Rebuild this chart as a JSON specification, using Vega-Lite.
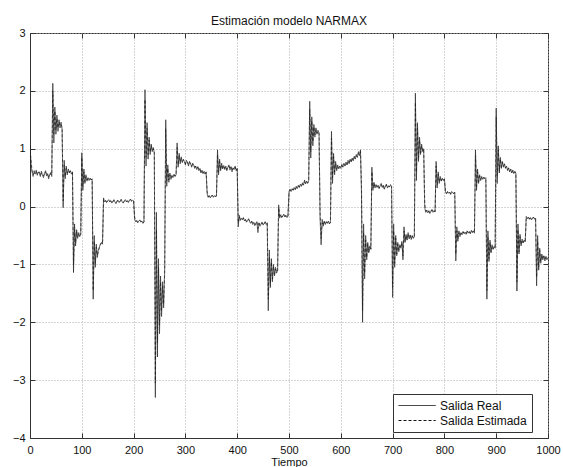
{
"$schema": "https://vega.github.io/schema/vega-lite/v6.json",
"width": 518,
"height": 405,
"autosize": {"type": "none"},
"padding": {"left": 30, "top": 33, "right": 15, "bottom": 29},
"background": "white",
"title": {"text": "Estimación modelo NARMAX", "fontSize": 12, "fontWeight": "normal", "font": "Liberation Sans", "color": "#111", "offset": -1},
"config": {
  "view": {"stroke": "#333", "strokeWidth": 1},
  "axis": {"labelFont": "Liberation Sans", "titleFont": "Liberation Sans", "labelFontSize": 11, "titleFontSize": 11, "titleFontWeight": "normal", "labelColor": "#111", "titleColor": "#111", "domainColor": "#333", "tickColor": "#333", "gridColor": "#aaa", "gridDash": [1, 2], "gridWidth": 1}
},
"data": {"values": [
{"t":0,"r":1.05,"e":0.98},{"t":2,"r":0.72,"e":0.80},{"t":4,"r":0.60,"e":0.62},{"t":6,"r":0.52,"e":0.55},{"t":8,"r":0.62,"e":0.58},{"t":10,"r":0.56,"e":0.60},{"t":12,"r":0.63,"e":0.61},{"t":14,"r":0.54,"e":0.56},{"t":16,"r":0.60,"e":0.58},{"t":18,"r":0.57,"e":0.60},{"t":20,"r":0.52,"e":0.54},{"t":22,"r":0.61,"e":0.58},{"t":24,"r":0.55,"e":0.57},{"t":26,"r":0.50,"e":0.53},{"t":28,"r":0.58,"e":0.56},{"t":30,"r":0.62,"e":0.60},{"t":32,"r":0.53,"e":0.55},{"t":34,"r":0.57,"e":0.56},{"t":36,"r":0.48,"e":0.51},{"t":38,"r":0.55,"e":0.54},{"t":40,"r":0.59,"e":0.57},{"t":42,"r":0.52,"e":0.55},
{"t":44,"r":2.13,"e":2.00},{"t":46,"r":1.10,"e":1.25},{"t":48,"r":1.72,"e":1.65},{"t":50,"r":1.25,"e":1.32},{"t":52,"r":1.58,"e":1.52},{"t":54,"r":1.30,"e":1.36},{"t":56,"r":1.50,"e":1.46},{"t":58,"r":1.36,"e":1.40},{"t":60,"r":1.46,"e":1.42},{"t":62,"r":1.33,"e":1.36},
{"t":64,"r":-0.02,"e":0.10},{"t":66,"r":0.80,"e":0.72},{"t":68,"r":0.48,"e":0.52},{"t":70,"r":0.70,"e":0.66},{"t":72,"r":0.55,"e":0.58},{"t":74,"r":0.65,"e":0.62},{"t":76,"r":0.58,"e":0.60},{"t":78,"r":0.62,"e":0.61},{"t":80,"r":0.56,"e":0.58},{"t":82,"r":0.60,"e":0.59},
{"t":84,"r":-1.14,"e":-1.00},{"t":86,"r":-0.30,"e":-0.40},{"t":88,"r":-0.68,"e":-0.62},{"t":90,"r":-0.40,"e":-0.44},{"t":92,"r":-0.55,"e":-0.52},{"t":94,"r":-0.45,"e":-0.47},{"t":96,"r":-0.52,"e":-0.50},{"t":98,"r":-0.47,"e":-0.48},
{"t":100,"r":0.93,"e":0.85},{"t":102,"r":0.28,"e":0.35},{"t":104,"r":0.65,"e":0.60},{"t":106,"r":0.40,"e":0.43},{"t":108,"r":0.55,"e":0.52},{"t":110,"r":0.44,"e":0.46},{"t":112,"r":0.50,"e":0.49},{"t":114,"r":0.45,"e":0.47},{"t":116,"r":0.49,"e":0.48},{"t":118,"r":0.46,"e":0.47},{"t":120,"r":0.48,"e":0.47},
{"t":122,"r":-1.60,"e":-1.45},{"t":124,"r":-0.50,"e":-0.60},{"t":126,"r":-1.05,"e":-0.98},{"t":128,"r":-0.65,"e":-0.70},{"t":130,"r":-0.88,"e":-0.84},{"t":132,"r":-0.75,"e":-0.77},{"t":134,"r":-0.70,"e":-0.71},{"t":136,"r":-0.64,"e":-0.66},{"t":138,"r":-0.62,"e":-0.63},{"t":140,"r":-0.65,"e":-0.64},
{"t":142,"r":0.15,"e":0.12},{"t":144,"r":0.08,"e":0.10},{"t":146,"r":0.11,"e":0.09},{"t":148,"r":0.07,"e":0.08},{"t":150,"r":0.10,"e":0.09},{"t":152,"r":0.12,"e":0.11},{"t":154,"r":0.08,"e":0.09},{"t":156,"r":0.10,"e":0.10},{"t":158,"r":0.06,"e":0.07},{"t":160,"r":0.09,"e":0.08},{"t":162,"r":0.12,"e":0.11},{"t":164,"r":0.08,"e":0.09},{"t":166,"r":0.05,"e":0.07},{"t":168,"r":0.10,"e":0.09},{"t":170,"r":0.11,"e":0.10},{"t":172,"r":0.07,"e":0.08},{"t":174,"r":0.09,"e":0.09},{"t":176,"r":0.13,"e":0.11},{"t":178,"r":0.08,"e":0.09},{"t":180,"r":0.06,"e":0.07},{"t":182,"r":0.10,"e":0.09},{"t":184,"r":0.12,"e":0.11},{"t":186,"r":0.08,"e":0.09},{"t":188,"r":0.10,"e":0.10},{"t":190,"r":0.07,"e":0.08},{"t":192,"r":0.11,"e":0.10},{"t":194,"r":0.13,"e":0.12},{"t":196,"r":0.09,"e":0.10},{"t":198,"r":0.11,"e":0.10},{"t":200,"r":0.10,"e":0.10},
{"t":202,"r":-0.22,"e":-0.18},{"t":204,"r":-0.26,"e":-0.25},{"t":206,"r":-0.24,"e":-0.25},{"t":208,"r":-0.28,"e":-0.27},{"t":210,"r":-0.25,"e":-0.26},{"t":212,"r":-0.23,"e":-0.24},{"t":214,"r":-0.27,"e":-0.26},{"t":216,"r":-0.25,"e":-0.25},{"t":218,"r":-0.29,"e":-0.28},{"t":220,"r":-0.26,"e":-0.27},
{"t":222,"r":2.02,"e":1.85},{"t":224,"r":0.70,"e":0.85},{"t":226,"r":1.45,"e":1.35},{"t":228,"r":0.82,"e":0.90},{"t":230,"r":1.20,"e":1.15},{"t":232,"r":0.90,"e":0.94},{"t":234,"r":1.08,"e":1.05},{"t":236,"r":0.95,"e":0.97},{"t":238,"r":1.02,"e":1.00},{"t":240,"r":0.92,"e":0.94},
{"t":242,"r":-3.30,"e":-3.05},{"t":244,"r":-0.10,"e":-0.40},{"t":246,"r":-2.60,"e":-2.35},{"t":248,"r":-0.90,"e":-1.05},{"t":250,"r":-2.20,"e":-2.05},{"t":252,"r":-1.20,"e":-1.30},{"t":254,"r":-1.90,"e":-1.80},{"t":256,"r":-1.30,"e":-1.38},{"t":258,"r":-1.75,"e":-1.68},{"t":260,"r":-1.05,"e":-1.15},
{"t":262,"r":1.50,"e":1.35},{"t":264,"r":0.35,"e":0.45},{"t":266,"r":0.72,"e":0.66},{"t":268,"r":0.42,"e":0.46},{"t":270,"r":0.58,"e":0.55},{"t":272,"r":0.47,"e":0.49},{"t":274,"r":0.54,"e":0.53},{"t":276,"r":0.50,"e":0.51},{"t":278,"r":0.56,"e":0.54},{"t":280,"r":0.52,"e":0.53},{"t":282,"r":0.55,"e":0.54},
{"t":284,"r":1.10,"e":1.02},{"t":286,"r":0.68,"e":0.72},{"t":288,"r":0.92,"e":0.88},{"t":290,"r":0.74,"e":0.77},{"t":292,"r":0.86,"e":0.83},{"t":294,"r":0.76,"e":0.78},{"t":296,"r":0.82,"e":0.80},{"t":298,"r":0.78,"e":0.79},{"t":300,"r":0.72,"e":0.74},{"t":302,"r":0.80,"e":0.78},{"t":304,"r":0.76,"e":0.77},{"t":306,"r":0.70,"e":0.72},{"t":308,"r":0.78,"e":0.76},{"t":310,"r":0.74,"e":0.75},{"t":312,"r":0.68,"e":0.70},{"t":314,"r":0.75,"e":0.73},{"t":316,"r":0.72,"e":0.72},{"t":318,"r":0.66,"e":0.68},{"t":320,"r":0.70,"e":0.69},{"t":322,"r":0.64,"e":0.66},{"t":324,"r":0.69,"e":0.68},{"t":326,"r":0.62,"e":0.64},{"t":328,"r":0.66,"e":0.65},{"t":330,"r":0.58,"e":0.60},{"t":332,"r":0.63,"e":0.62},{"t":334,"r":0.57,"e":0.58},{"t":336,"r":0.61,"e":0.60},{"t":338,"r":0.56,"e":0.57},{"t":340,"r":0.60,"e":0.59},
{"t":342,"r":0.22,"e":0.26},{"t":344,"r":0.16,"e":0.17},{"t":346,"r":0.19,"e":0.18},{"t":348,"r":0.15,"e":0.16},{"t":350,"r":0.18,"e":0.18},{"t":352,"r":0.20,"e":0.19},{"t":354,"r":0.16,"e":0.17},{"t":356,"r":0.19,"e":0.18},{"t":358,"r":0.17,"e":0.18},{"t":360,"r":0.19,"e":0.18},
{"t":362,"r":0.98,"e":0.90},{"t":364,"r":0.55,"e":0.60},{"t":366,"r":0.82,"e":0.78},{"t":368,"r":0.62,"e":0.64},{"t":370,"r":0.75,"e":0.72},{"t":372,"r":0.65,"e":0.67},{"t":374,"r":0.71,"e":0.70},{"t":376,"r":0.64,"e":0.66},{"t":378,"r":0.70,"e":0.69},{"t":380,"r":0.62,"e":0.64},{"t":382,"r":0.68,"e":0.67},{"t":384,"r":0.72,"e":0.70},{"t":386,"r":0.63,"e":0.65},{"t":388,"r":0.69,"e":0.68},{"t":390,"r":0.60,"e":0.62},{"t":392,"r":0.67,"e":0.66},{"t":394,"r":0.64,"e":0.64},{"t":396,"r":0.70,"e":0.68},{"t":398,"r":0.62,"e":0.63},{"t":400,"r":0.66,"e":0.65},
{"t":402,"r":-0.35,"e":-0.28},{"t":404,"r":-0.15,"e":-0.18},{"t":406,"r":-0.24,"e":-0.22},{"t":408,"r":-0.20,"e":-0.21},{"t":410,"r":-0.23,"e":-0.22},{"t":412,"r":-0.19,"e":-0.20},{"t":414,"r":-0.25,"e":-0.24},{"t":416,"r":-0.22,"e":-0.23},{"t":418,"r":-0.27,"e":-0.26},{"t":420,"r":-0.24,"e":-0.24},{"t":422,"r":-0.21,"e":-0.22},{"t":424,"r":-0.26,"e":-0.25},{"t":426,"r":-0.29,"e":-0.28},{"t":428,"r":-0.25,"e":-0.26},{"t":430,"r":-0.31,"e":-0.29},{"t":432,"r":-0.27,"e":-0.28},{"t":434,"r":-0.33,"e":-0.31},{"t":436,"r":-0.29,"e":-0.30},{"t":438,"r":-0.26,"e":-0.27},{"t":440,"r":-0.45,"e":-0.38},{"t":442,"r":-0.28,"e":-0.29},{"t":444,"r":-0.34,"e":-0.32},{"t":446,"r":-0.30,"e":-0.31},{"t":448,"r":-0.27,"e":-0.28},{"t":450,"r":-0.32,"e":-0.31},{"t":452,"r":-0.29,"e":-0.30},{"t":454,"r":-0.26,"e":-0.27},{"t":456,"r":-0.31,"e":-0.30},{"t":458,"r":-0.28,"e":-0.29},
{"t":460,"r":-1.80,"e":-1.60},{"t":462,"r":-0.75,"e":-0.88},{"t":464,"r":-1.40,"e":-1.32},{"t":466,"r":-0.90,"e":-0.96},{"t":468,"r":-1.30,"e":-1.25},{"t":470,"r":-1.00,"e":-1.04},{"t":472,"r":-1.20,"e":-1.17},{"t":474,"r":-1.05,"e":-1.08},{"t":476,"r":-1.15,"e":-1.13},{"t":478,"r":-1.10,"e":-1.11},
{"t":480,"r":0.03,"e":-0.02},{"t":482,"r":-0.20,"e":-0.17},{"t":484,"r":-0.14,"e":-0.15},{"t":486,"r":-0.19,"e":-0.18},{"t":488,"r":-0.16,"e":-0.17},{"t":490,"r":-0.13,"e":-0.14},{"t":492,"r":-0.18,"e":-0.17},{"t":494,"r":-0.15,"e":-0.16},{"t":496,"r":-0.19,"e":-0.18},{"t":498,"r":-0.16,"e":-0.17},
{"t":500,"r":0.26,"e":0.22},{"t":502,"r":0.30,"e":0.29},{"t":504,"r":0.26,"e":0.27},{"t":506,"r":0.31,"e":0.30},{"t":508,"r":0.28,"e":0.29},{"t":510,"r":0.33,"e":0.32},{"t":512,"r":0.29,"e":0.30},{"t":514,"r":0.35,"e":0.33},{"t":516,"r":0.31,"e":0.32},{"t":518,"r":0.37,"e":0.35},{"t":520,"r":0.33,"e":0.34},{"t":522,"r":0.39,"e":0.37},{"t":524,"r":0.35,"e":0.36},{"t":526,"r":0.41,"e":0.39},{"t":528,"r":0.37,"e":0.38},{"t":530,"r":0.46,"e":0.43},{"t":532,"r":0.39,"e":0.40},{"t":534,"r":0.44,"e":0.43},{"t":536,"r":0.40,"e":0.41},{"t":538,"r":0.45,"e":0.44},
{"t":540,"r":1.82,"e":1.68},{"t":542,"r":0.84,"e":0.95},{"t":544,"r":1.55,"e":1.48},{"t":546,"r":1.05,"e":1.12},{"t":548,"r":1.42,"e":1.38},{"t":550,"r":1.20,"e":1.24},{"t":552,"r":1.36,"e":1.33},{"t":554,"r":1.25,"e":1.27},{"t":556,"r":1.32,"e":1.30},{"t":558,"r":1.26,"e":1.28},
{"t":560,"r":-0.20,"e":-0.10},{"t":562,"r":-0.66,"e":-0.55},{"t":564,"r":-0.22,"e":-0.28},{"t":566,"r":-0.34,"e":-0.32},{"t":568,"r":-0.25,"e":-0.27},{"t":570,"r":-0.31,"e":-0.30},{"t":572,"r":-0.26,"e":-0.27},{"t":574,"r":-0.29,"e":-0.28},{"t":576,"r":-0.25,"e":-0.26},{"t":578,"r":-0.30,"e":-0.29},{"t":580,"r":-0.27,"e":-0.28},
{"t":582,"r":1.30,"e":1.18},{"t":584,"r":0.40,"e":0.50},{"t":586,"r":0.92,"e":0.86},{"t":588,"r":0.55,"e":0.60},{"t":590,"r":0.78,"e":0.74},{"t":592,"r":0.62,"e":0.65},{"t":594,"r":0.72,"e":0.70},{"t":596,"r":0.65,"e":0.67},{"t":598,"r":0.70,"e":0.69},{"t":600,"r":0.66,"e":0.67},{"t":602,"r":0.73,"e":0.71},{"t":604,"r":0.68,"e":0.69},{"t":606,"r":0.75,"e":0.73},{"t":608,"r":0.70,"e":0.71},{"t":610,"r":0.77,"e":0.75},{"t":612,"r":0.72,"e":0.73},{"t":614,"r":0.80,"e":0.78},{"t":616,"r":0.74,"e":0.76},{"t":618,"r":0.82,"e":0.80},{"t":620,"r":0.77,"e":0.78},{"t":622,"r":0.84,"e":0.82},{"t":624,"r":0.79,"e":0.80},{"t":626,"r":0.87,"e":0.85},{"t":628,"r":0.82,"e":0.83},{"t":630,"r":0.90,"e":0.88},{"t":632,"r":0.85,"e":0.86},{"t":634,"r":0.95,"e":0.92},{"t":636,"r":0.88,"e":0.90},{"t":638,"r":0.98,"e":0.95},
{"t":640,"r":0.20,"e":0.35},{"t":642,"r":-2.00,"e":-1.80},{"t":644,"r":-0.30,"e":-0.45},{"t":646,"r":-1.25,"e":-1.15},{"t":648,"r":-0.50,"e":-0.58},{"t":650,"r":-0.92,"e":-0.88},{"t":652,"r":-0.62,"e":-0.65},{"t":654,"r":-0.80,"e":-0.78},{"t":656,"r":-0.68,"e":-0.70},{"t":658,"r":-0.74,"e":-0.73},
{"t":660,"r":0.68,"e":0.60},{"t":662,"r":0.28,"e":0.32},{"t":664,"r":0.42,"e":0.40},{"t":666,"r":0.32,"e":0.34},{"t":668,"r":0.38,"e":0.37},{"t":670,"r":0.33,"e":0.34},{"t":672,"r":0.37,"e":0.36},{"t":674,"r":0.31,"e":0.32},{"t":676,"r":0.36,"e":0.35},{"t":678,"r":0.40,"e":0.38},{"t":680,"r":0.33,"e":0.34},{"t":682,"r":0.37,"e":0.36},{"t":684,"r":0.30,"e":0.31},{"t":686,"r":0.35,"e":0.35},{"t":688,"r":0.39,"e":0.37},{"t":690,"r":0.32,"e":0.33},{"t":692,"r":0.36,"e":0.35},{"t":694,"r":0.34,"e":0.34},{"t":696,"r":0.38,"e":0.37},{"t":698,"r":0.34,"e":0.35},
{"t":700,"r":-1.57,"e":-1.40},{"t":702,"r":-0.30,"e":-0.42},{"t":704,"r":-1.05,"e":-0.98},{"t":706,"r":-0.50,"e":-0.55},{"t":708,"r":-0.85,"e":-0.82},{"t":710,"r":-0.62,"e":-0.65},{"t":712,"r":-0.78,"e":-0.75},{"t":714,"r":-0.66,"e":-0.68},{"t":716,"r":-0.72,"e":-0.71},{"t":718,"r":-0.60,"e":-0.62},{"t":720,"r":-0.92,"e":-0.85},{"t":722,"r":-0.35,"e":-0.42},{"t":724,"r":-0.62,"e":-0.60},{"t":726,"r":-0.48,"e":-0.50},{"t":728,"r":-0.58,"e":-0.57},{"t":730,"r":-0.45,"e":-0.47},{"t":732,"r":-0.56,"e":-0.54},{"t":734,"r":-0.49,"e":-0.50},{"t":736,"r":-0.57,"e":-0.55},{"t":738,"r":-0.50,"e":-0.51},{"t":740,"r":-0.55,"e":-0.54},{"t":742,"r":-0.52,"e":-0.53},
{"t":744,"r":1.96,"e":1.80},{"t":746,"r":0.45,"e":0.60},{"t":748,"r":1.45,"e":1.35},{"t":750,"r":0.78,"e":0.85},{"t":752,"r":1.20,"e":1.15},{"t":754,"r":0.90,"e":0.93},{"t":756,"r":1.08,"e":1.05},{"t":758,"r":0.95,"e":0.97},{"t":760,"r":1.00,"e":0.99},
{"t":762,"r":-0.02,"e":0.05},{"t":764,"r":-0.10,"e":-0.08},{"t":766,"r":-0.06,"e":-0.07},{"t":768,"r":-0.11,"e":-0.10},{"t":770,"r":-0.07,"e":-0.08},{"t":772,"r":-0.12,"e":-0.11},{"t":774,"r":-0.08,"e":-0.09},{"t":776,"r":-0.05,"e":-0.06},{"t":778,"r":-0.10,"e":-0.09},{"t":780,"r":-0.07,"e":-0.08},{"t":782,"r":-0.09,"e":-0.09},
{"t":784,"r":0.78,"e":0.70},{"t":786,"r":0.32,"e":0.38},{"t":788,"r":0.60,"e":0.56},{"t":790,"r":0.40,"e":0.42},{"t":792,"r":0.52,"e":0.50},{"t":794,"r":0.44,"e":0.45},{"t":796,"r":0.49,"e":0.48},{"t":798,"r":0.45,"e":0.46},{"t":800,"r":0.48,"e":0.47},
{"t":802,"r":0.25,"e":0.28},{"t":804,"r":0.22,"e":0.23},{"t":806,"r":0.26,"e":0.25},{"t":808,"r":0.23,"e":0.24},{"t":810,"r":0.25,"e":0.25},{"t":812,"r":0.21,"e":0.22},{"t":814,"r":0.26,"e":0.25},{"t":816,"r":0.24,"e":0.24},{"t":818,"r":0.22,"e":0.23},{"t":820,"r":0.25,"e":0.24},
{"t":822,"r":-0.94,"e":-0.82},{"t":824,"r":-0.35,"e":-0.42},{"t":826,"r":-0.60,"e":-0.56},{"t":828,"r":-0.42,"e":-0.45},{"t":830,"r":-0.52,"e":-0.50},{"t":832,"r":-0.45,"e":-0.46},{"t":834,"r":-0.49,"e":-0.48},{"t":836,"r":-0.43,"e":-0.44},{"t":838,"r":-0.47,"e":-0.46},{"t":840,"r":-0.44,"e":-0.45},{"t":842,"r":-0.48,"e":-0.47},{"t":844,"r":-0.42,"e":-0.43},{"t":846,"r":-0.46,"e":-0.45},{"t":848,"r":-0.43,"e":-0.44},{"t":850,"r":-0.47,"e":-0.46},{"t":852,"r":-0.41,"e":-0.42},{"t":854,"r":-0.45,"e":-0.44},{"t":856,"r":-0.42,"e":-0.43},{"t":858,"r":-0.46,"e":-0.45},
{"t":860,"r":0.98,"e":0.88},{"t":862,"r":0.28,"e":0.35},{"t":864,"r":0.65,"e":0.60},{"t":866,"r":0.40,"e":0.43},{"t":868,"r":0.55,"e":0.53},{"t":870,"r":0.45,"e":0.47},{"t":872,"r":0.52,"e":0.51},{"t":874,"r":0.47,"e":0.48},{"t":876,"r":0.51,"e":0.50},{"t":878,"r":0.48,"e":0.49},{"t":880,"r":0.50,"e":0.49},
{"t":882,"r":-1.60,"e":-1.45},{"t":884,"r":-0.42,"e":-0.52},{"t":886,"r":-0.95,"e":-0.90},{"t":888,"r":-0.58,"e":-0.62},{"t":890,"r":-0.80,"e":-0.78},{"t":892,"r":-0.66,"e":-0.68},{"t":894,"r":-0.74,"e":-0.73},{"t":896,"r":-0.69,"e":-0.70},{"t":898,"r":-0.72,"e":-0.71},
{"t":900,"r":1.70,"e":1.55},{"t":902,"r":0.40,"e":0.52},{"t":904,"r":1.05,"e":0.98},{"t":906,"r":0.58,"e":0.62},{"t":908,"r":0.85,"e":0.82},{"t":910,"r":0.66,"e":0.68},{"t":912,"r":0.78,"e":0.76},{"t":914,"r":0.68,"e":0.70},{"t":916,"r":0.74,"e":0.73},{"t":918,"r":0.66,"e":0.67},{"t":920,"r":0.70,"e":0.69},{"t":922,"r":0.62,"e":0.64},{"t":924,"r":0.67,"e":0.66},{"t":926,"r":0.60,"e":0.61},{"t":928,"r":0.65,"e":0.64},{"t":930,"r":0.58,"e":0.59},{"t":932,"r":0.63,"e":0.62},{"t":934,"r":0.57,"e":0.58},{"t":936,"r":0.61,"e":0.60},{"t":938,"r":0.58,"e":0.58},
{"t":940,"r":-1.46,"e":-1.30},{"t":942,"r":-0.30,"e":-0.40},{"t":944,"r":-0.82,"e":-0.78},{"t":946,"r":-0.48,"e":-0.52},{"t":948,"r":-0.68,"e":-0.66},{"t":950,"r":-0.56,"e":-0.58},{"t":952,"r":-0.63,"e":-0.62},{"t":954,"r":-0.58,"e":-0.59},{"t":956,"r":-0.61,"e":-0.60},
{"t":958,"r":-0.17,"e":-0.22},{"t":960,"r":-0.21,"e":-0.20},{"t":962,"r":-0.18,"e":-0.19},{"t":964,"r":-0.22,"e":-0.21},{"t":966,"r":-0.19,"e":-0.20},{"t":968,"r":-0.23,"e":-0.22},{"t":970,"r":-0.20,"e":-0.20},{"t":972,"r":-0.18,"e":-0.19},{"t":974,"r":-0.22,"e":-0.21},{"t":976,"r":-0.20,"e":-0.20},
{"t":978,"r":-1.37,"e":-1.22},{"t":980,"r":-0.50,"e":-0.60},{"t":982,"r":-1.10,"e":-1.05},{"t":984,"r":-0.72,"e":-0.76},{"t":986,"r":-0.98,"e":-0.95},{"t":988,"r":-0.82,"e":-0.84},{"t":990,"r":-0.92,"e":-0.90},{"t":992,"r":-0.85,"e":-0.86},{"t":994,"r":-0.94,"e":-0.92},{"t":996,"r":-0.86,"e":-0.88},{"t":998,"r":-0.92,"e":-0.91},{"t":1000,"r":-0.88,"e":-0.89}
]},
"transform": [{"fold": ["r", "e"], "as": ["serie", "valor"]}],
"resolve": {"axis": {"x": "independent", "y": "independent"}},
"layer": [
  {
    "mark": {"type": "line", "stroke": "#1a1a1a", "strokeWidth": 0.7, "clip": true},
    "encoding": {
      "x": {"field": "t", "type": "quantitative", "scale": {"domain": [0, 1000], "nice": false, "zero": false},
            "axis": {"title": "Tiempo", "format": "d", "values": [0,100,200,300,400,500,600,700,800,900,1000], "tickSize": -5, "labelPadding": 11, "titlePadding": 1, "grid": true, "labelFlush": false}},
      "y": {"field": "valor", "type": "quantitative", "scale": {"domain": [-4, 3], "nice": false, "zero": false},
            "axis": {"title": null, "values": [-4,-3,-2,-1,0,1,2,3], "tickSize": -5, "labelPadding": 10, "grid": true, "labelFlush": false}},
      "strokeDash": {"field": "serie", "type": "nominal",
        "scale": {"domain": ["r", "e"], "range": [[1, 0], [3, 2]]},
        "legend": {"title": null, "orient": "none", "legendX": 363, "legendY": 361, "direction": "vertical",
          "labelExpr": "datum.label == 'r' ? 'Salida Real' : 'Salida Estimada'",
          "symbolType": "M-1,0H5.2", "symbolSize": 144, "symbolStrokeWidth": 1, "symbolStrokeColor": "#111",
          "labelFont": "Liberation Sans", "labelFontSize": 12, "labelColor": "#111", "labelOffset": 29,
          "strokeColor": "#333", "fillColor": "white", "padding": 5, "rowPadding": 2}
      },
      "detail": {"field": "serie"}
    }
  },
  {
    "mark": {"type": "line", "opacity": 0},
    "encoding": {
      "x": {"field": "t", "type": "quantitative",
            "axis": {"orient": "top", "title": null, "labels": false, "grid": false, "domain": false, "values": [0,100,200,300,400,500,600,700,800,900,1000], "tickSize": -5}},
      "y": {"field": "valor", "type": "quantitative",
            "axis": {"orient": "right", "title": null, "labels": false, "grid": false, "domain": false, "values": [-4,-3,-2,-1,0,1,2,3], "tickSize": -5}},
      "detail": {"field": "serie"}
    }
  }
]
}
